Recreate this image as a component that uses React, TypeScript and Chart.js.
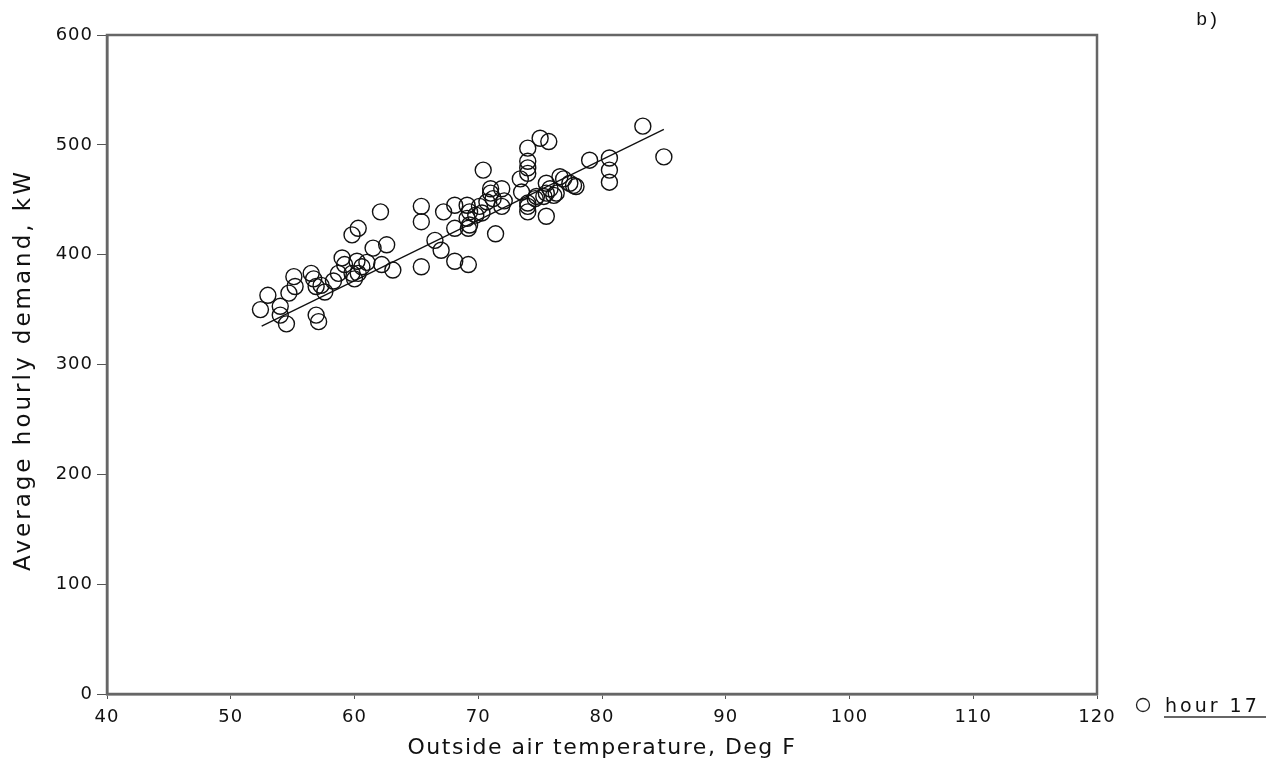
import React, { useEffect, useRef } from "react";
import { Chart, registerables } from "chart.js";

Chart.register(...registerables);

// Outside air temperature (Deg F) of each observation
const tempF = [
  52.4, 53.0, 54.0, 54.0, 54.5, 54.7, 55.1, 55.2, 56.5, 56.7, 56.9, 57.3, 57.6, 56.9, 57.1, 58.3, 58.7, 59.0, 59.2, 59.8, 60.3, 60.0, 60.6, 60.2, 61.0, 62.2, 63.1,
  62.1, 59.8, 60.3, 61.5, 62.6, 65.4, 65.4, 65.4, 66.5, 67.0, 67.2, 68.1, 69.2, 68.1, 68.1, 69.1, 69.2, 69.3, 69.3, 69.1, 69.8, 70.3,
  70.4, 71.0, 71.9, 71.0, 71.2, 71.9, 70.7, 70.1, 71.4, 72.1,
  73.4, 73.5, 74.0, 74.0, 75.5, 74.7, 75.5, 75.8, 76.3, 76.6, 77.4, 77.7,
  75.0, 75.7, 74.0, 74.0, 74.0, 74.0, 83.3, 85.0, 79.0, 80.6, 80.6, 80.6, 76.9, 75.3, 74.6, 74.0, 76.1, 75.5, 77.9,
];

// Average hourly demand (kW) of each observation
const demandKW = [
  350, 363, 353, 345, 337, 365, 380, 371, 383, 378, 371, 372, 366, 345, 339, 376, 383, 397, 391, 383, 383, 378, 389, 394, 393, 391, 386,
  439, 418, 424, 406, 409, 444, 430, 389, 413, 404, 439, 394, 391, 445, 424, 445, 424, 427, 439, 433, 436, 438,
  477, 460, 460, 456, 451, 444, 448, 444, 419, 449,
  469, 457, 444, 439, 435, 453, 456, 460, 456, 471, 465, 463,
  506, 503, 497, 485, 479, 474, 517, 489, 486, 488, 477, 466, 469, 453, 451, 447, 454, 465, 462,
];

// Regression line end points
const fitTemp = [52.5, 85.0];
const fitDemand = [335, 514];

const xTicks = [40, 50, 60, 70, 80, 90, 100, 110, 120];
const yTicks = [0, 100, 200, 300, 400, 500, 600];

const xTitle = "Outside air temperature, Deg F";
const yTitle = "Average hourly demand, kW";
const seriesLabel = "hour 17";
const panelLabel = "b)";

const FONT = "'DejaVu Sans', sans-serif";

const framePlugin = {
  id: "frameAndLegend",
  beforeDraw(chart: any) {
    (chart.ctx as any).letterSpacing = "1px";
  },
  afterDatasetsDraw(chart: any) {
    const { ctx, chartArea } = chart;
    ctx.save();
    ctx.strokeStyle = "#666";
    ctx.lineWidth = 2.5;
    ctx.strokeRect(chartArea.left, chartArea.top, chartArea.right - chartArea.left, chartArea.bottom - chartArea.top);

    ctx.fillStyle = "#111";
    ctx.textBaseline = "alphabetic";

    // axis titles
    const cx = (chartArea.left + chartArea.right) / 2;
    ctx.font = "22px " + FONT;
    ctx.letterSpacing = "1.5px";
    ctx.textAlign = "center";
    ctx.fillText(xTitle, cx, 754);

    ctx.save();
    ctx.translate(30, 370);
    ctx.rotate(-Math.PI / 2);
    ctx.font = "23px " + FONT;
    ctx.letterSpacing = "3px";
    ctx.textAlign = "center";
    ctx.fillText(yTitle, 0, 0);
    ctx.restore();

    // legend
    ctx.strokeStyle = "#222";
    ctx.lineWidth = 1.3;
    ctx.beginPath();
    ctx.arc(1143, 705, 6.5, 0, Math.PI * 2);
    ctx.stroke();
    ctx.font = "19px " + FONT;
    ctx.letterSpacing = "3px";
    ctx.textAlign = "left";
    ctx.fillText(seriesLabel, 1165, 712);
    ctx.strokeStyle = "#333";
    ctx.lineWidth = 1.5;
    ctx.beginPath();
    ctx.moveTo(1164, 717);
    ctx.lineTo(1266, 717);
    ctx.stroke();

    // panel label
    ctx.font = "19px 'Liberation Mono', monospace";
    ctx.letterSpacing = "0px";
    ctx.fillText(panelLabel, 1196, 25);
    ctx.restore();
  },
};

export default function App() {
  const ref = useRef<HTMLCanvasElement | null>(null);
  useEffect(() => {
    document.body.style.margin = "0";
    const canvas = ref.current;
    if (!canvas) return;
    const points = tempF.map((t, i) => ({ x: t, y: demandKW[i] }));
    const fit = fitTemp.map((t, i) => ({ x: t, y: fitDemand[i] }));
    const chart = new Chart(canvas, {
      type: "scatter",
      data: {
        datasets: [
          {
            label: seriesLabel,
            data: points,
            pointStyle: "circle",
            pointRadius: 8,
            pointHoverRadius: 8,
            borderColor: "#111",
            borderWidth: 1.4,
            backgroundColor: "rgba(0,0,0,0)",
          },
          {
            label: "fit",
            type: "line",
            data: fit,
            showLine: true,
            pointRadius: 0,
            borderColor: "#111",
            borderWidth: 1.3,
            fill: false,
          } as any,
        ],
      },
      options: {
        responsive: false,
        animation: false,
        devicePixelRatio: 1,
        layout: { padding: { left: 0, right: 172, top: 35, bottom: 0 } },
        plugins: { legend: { display: false }, tooltip: { enabled: false }, title: { display: false } },
        scales: {
          x: {
            type: "linear",
            min: 40,
            max: 120,
            afterFit: (s: any) => { s.height = 72; },
            afterBuildTicks: (s: any) => { s.ticks = xTicks.map((v) => ({ value: v })); },
            grid: { drawOnChartArea: false, drawTicks: true, tickLength: 5, color: "#555", lineWidth: 1 },
            border: { display: true, color: "#666", width: 2.5 },
            ticks: { color: "#111", font: { family: FONT, size: 18 }, padding: 8 },
            title: { display: false },
          },
          y: {
            type: "linear",
            min: 0,
            max: 600,
            afterFit: (s: any) => { s.width = 107; },
            afterBuildTicks: (s: any) => { s.ticks = yTicks.map((v) => ({ value: v })); },
            grid: { drawOnChartArea: false, drawTicks: true, tickLength: 10, color: "#555", lineWidth: 1 },
            border: { display: true, color: "#666", width: 2.5 },
            ticks: { color: "#111", font: { family: FONT, size: 18 }, padding: 4 },
            title: { display: false },
          },
        },
      },
      plugins: [framePlugin],
    });
    return () => chart.destroy();
  }, []);
  return (
    <div style={{ width: 1269, height: 766 }}>
      <canvas ref={ref} width={1269} height={766} />
    </div>
  );
}
